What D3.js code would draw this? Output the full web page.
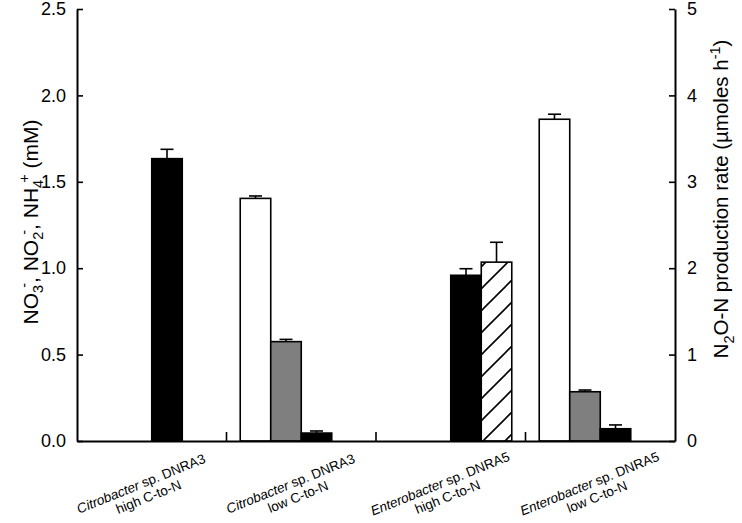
<!DOCTYPE html>
<html><head><meta charset="utf-8">
<script src="https://cdn.jsdelivr.net/npm/d3@7"></script>
<style>body{margin:0;background:#fff}svg{display:block}text{font-family:"Liberation Sans",Arial,sans-serif;fill:#000}</style>
</head><body>
<svg id="c" width="742" height="523"></svg>
<script>
const genus = ["Citrobacter","Citrobacter","Enterobacter","Enterobacter"];
const strain = [" sp. DNRA3"," sp. DNRA3"," sp. DNRA5"," sp. DNRA5"];
const ratio = ["high C-to-N","low C-to-N","high C-to-N","low C-to-N"];
const series = ["NO3","NO2","NH4","N2O"];
const no3 = [0, 1.404, 0, 1.862];
const no3Err = [0, 0.014, 0, 0.029];
const no2 = [0, 0.575, 0, 0.285];
const no2Err = [0, 0.013, 0, 0.010];
const nh4 = [1.634, 0.046, 0.959, 0.071];
const nh4Err = [0.054, 0.012, 0.038, 0.022];
const n2o = [0, 0, 2.07, 0];
const n2oErr = [0, 0, 0.23, 0];
const leftTicks = [0, 0.5, 1.0, 1.5, 2.0, 2.5];
const rightTicks = [0, 1, 2, 3, 4, 5];

const svg = d3.select("#c");
const L = 77, R = 675, T = 9, B = 441;
const cats = d3.range(4);
const x = d3.scaleBand().domain(cats).range([L, R]).padding(0);
const xs = d3.scaleBand().domain(series).range([0, x.bandwidth()]).paddingInner(0).paddingOuter(0.45);
const yL = d3.scaleLinear().domain([0, 2.5]).range([B, T]);
const yR = d3.scaleLinear().domain([0, 5]).range([B, T]);

const defs = svg.append("defs");
const pat = defs.append("pattern").attr("id","hatch").attr("patternUnits","userSpaceOnUse")
  .attr("width",22).attr("height",22);
pat.append("rect").attr("width",22).attr("height",22).attr("fill","#fff");
pat.append("path").attr("d","M0,22 L22,0 M-11,11 L11,-11 M11,33 L33,11").attr("stroke","#000").attr("stroke-width",1.6);

const fills = {NO3:"#fff", NO2:"#7f7f7f", NH4:"#000", N2O:"url(#hatch)"};
const vals = {NO3:no3, NO2:no2, NH4:nh4, N2O:n2o};
const errs = {NO3:no3Err, NO2:no2Err, NH4:nh4Err, N2O:n2oErr};
const scaleOf = s => s === "N2O" ? yR : yL;

const data = [];
cats.forEach(c => series.forEach(s => {
  if (vals[s][c] > 0) data.push({c, s, v: vals[s][c], e: errs[s][c]});
}));

const eg = svg.append("g").attr("stroke","#000").attr("stroke-width",1.6).attr("fill","none");
data.forEach(d => {
  const y = scaleOf(d.s);
  const cx = x(d.c) + xs(d.s) + xs.bandwidth()/2;
  eg.append("line").attr("x1",cx).attr("x2",cx).attr("y1",y(d.v)).attr("y2",y(d.v + d.e));
  eg.append("line").attr("x1",cx-6.5).attr("x2",cx+6.5).attr("y1",y(d.v + d.e)).attr("y2",y(d.v + d.e));
});

svg.append("g").selectAll("rect").data(data).join("rect")
  .attr("x", d => x(d.c) + xs(d.s))
  .attr("width", xs.bandwidth())
  .attr("y", d => scaleOf(d.s)(d.v))
  .attr("height", d => B - scaleOf(d.s)(d.v))
  .attr("fill", d => fills[d.s])
  .attr("stroke","#000").attr("stroke-width",1.6);

const axL = svg.append("g").attr("transform",`translate(${L},0)`)
  .call(d3.axisLeft(yL).tickValues(leftTicks).tickFormat(d3.format(".1f")).tickSizeInner(-6).tickSizeOuter(0).tickPadding(11));
const axR = svg.append("g").attr("transform",`translate(${R},0)`)
  .call(d3.axisRight(yR).tickValues(rightTicks).tickFormat(d3.format("d")).tickSizeInner(-6).tickSizeOuter(0).tickPadding(12));
const axB = svg.append("g").attr("transform",`translate(0,${B})`)
  .call(d3.axisBottom(x).tickValues([]).tickSizeOuter(0));
[axL, axR, axB].forEach(a => {
  a.select(".domain").attr("stroke","#000").attr("stroke-width",2);
  a.selectAll(".tick line").attr("stroke","#000").attr("stroke-width",1.6);
  a.selectAll(".tick text").attr("font-size",18).attr("font-family","Liberation Sans, Arial, sans-serif").attr("fill","#000");
});
svg.append("g").selectAll("line").data(cats.slice(1)).join("line")
  .attr("x1", c => x(c)).attr("x2", c => x(c))
  .attr("y1", B).attr("y2", B - 9)
  .attr("stroke","#000").attr("stroke-width",1.6);

cats.forEach(c => {
  const cx = x(c) + x.bandwidth()/2;
  const g = svg.append("g").attr("transform",`translate(${cx-9},488) rotate(-22)`);
  const t1 = g.append("text").attr("text-anchor","middle").attr("font-size",13.5);
  t1.append("tspan").attr("font-style","italic").text(genus[c]);
  t1.append("tspan").text(strain[c]);
  g.append("text").attr("text-anchor","middle").attr("font-size",13.5).attr("y",15).attr("x",2).text(ratio[c]);
});

const leftParts = [
  ["NO",0,21,0],["3",5,14.5,0],["-",-14,14.5,-3],
  [", NO",9,21,0],["2",5,14.5,0],["-",-14,14.5,-3],
  [", NH",9,21,0],["4",5,14.5,0],["+",-14,14.5,-3],
  [" (mM)",9,21,0]
];
const lt = svg.append("text").attr("transform","translate(38,222) rotate(-90)")
  .attr("text-anchor","middle").attr("font-size",21);
leftParts.forEach(([t,dy,fs,dx]) => lt.append("tspan").attr("dy",dy).attr("dx",dx).attr("font-size",fs).text(t));

const rt = svg.append("text").attr("transform","translate(728,199) rotate(-90)")
  .attr("text-anchor","middle").attr("font-size",20.5);
rt.append("tspan").text("N");
rt.append("tspan").attr("font-size",14.5).attr("dy",6).text("2");
rt.append("tspan").attr("dy",-6).text("O-N production rate (\u00b5moles h");
rt.append("tspan").attr("font-size",14.5).attr("dy",-8).text("-1");
rt.append("tspan").attr("dy",8).text(")");
</script>
</body></html>
